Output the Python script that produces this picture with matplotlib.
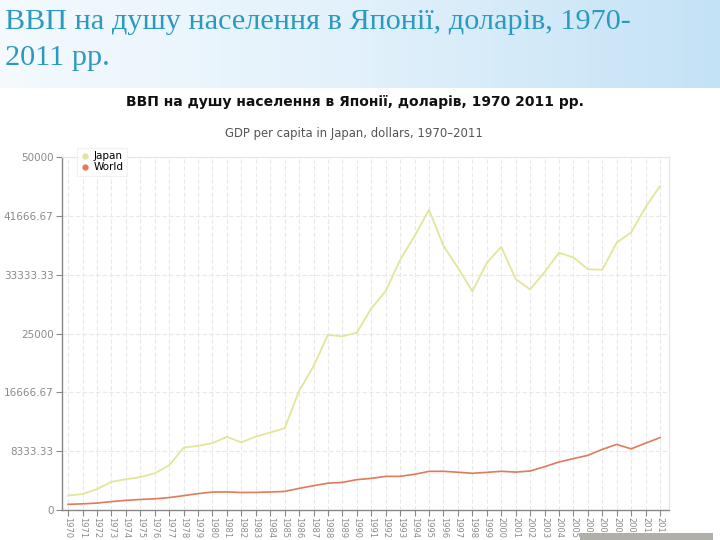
import matplotlib
matplotlib.use("Agg")
import matplotlib.pyplot as plt
import numpy as np
from matplotlib.patches import Rectangle
from matplotlib.colors import LinearSegmentedColormap

years = list(range(1970, 2012))
japan = [2040, 2270, 2950, 3990, 4350, 4660, 5200, 6330, 8820, 9100,
         9460, 10360, 9580, 10400, 10980, 11580, 16880, 20360, 24810, 24600,
         25120, 28540, 31010, 35450, 38810, 42520, 37420, 34300, 30970, 35000,
         37290, 32720, 31240, 33690, 36440, 35780, 34100, 34030, 37870, 39320,
         42910, 45900]
world = [800, 870, 980, 1190, 1360, 1490, 1580, 1760, 2030, 2320,
         2540, 2560, 2480, 2490, 2550, 2630, 3060, 3440, 3800, 3910,
         4300, 4480, 4760, 4770, 5060, 5470, 5480, 5350, 5200, 5330,
         5480, 5370, 5520, 6130, 6800, 7280, 7740, 8590, 9290, 8660,
         9470, 10250]
ytick_vals = [0, 8333.33, 16666.67, 25000, 33333.33, 41666.67, 50000]
ytick_labels = ["0", "8333.33", "16666.67", "25000", "33333.33", "41666.67", "50000"]
series_names = ["Japan", "World"]

W, H = 720, 540
fig = plt.figure(figsize=(7.2, 5.4), dpi=100)
fig.patch.set_facecolor("white")

# header gradient band
bg = fig.add_axes([0, 1 - 88 / H, 1, 88 / H])
grad = np.linspace(0, 1, 256)
g = np.vstack([grad, grad])
cmap = LinearSegmentedColormap.from_list("bg", ["#f4fafe", "#e2f1fb", "#c4e2f6"])
bg.imshow(g, aspect="auto", cmap=cmap, extent=[0, 1, 0, 1])
bg.set_axis_off()

fig.text(5 / W, 1 - 29 / H, "ВВП на душу населення в Японії, доларів, 1970-",
         fontsize=21.8, family="Liberation Serif", color="#2b9ac0", va="baseline", ha="left")
fig.text(5 / W, 1 - 65 / H, "2011 рр.",
         fontsize=21.8, family="Liberation Serif", color="#2b9ac0", va="baseline", ha="left")

fig.text(355 / W, 1 - 106 / H, "ВВП на душу населення в Японії, доларів, 1970 2011 рр.",
         fontsize=10, fontweight="bold", color="#111111", ha="center", va="baseline")
fig.text(354 / W, 1 - 137 / H, "GDP per capita in Japan, dollars, 1970–2011",
         fontsize=8.4, color="#555555", ha="center", va="baseline")

# small strip at bottom right (drawn beneath the chart texts)
fig.patches.append(Rectangle((580 / W, 0), 133 / W, 7 / H, transform=fig.transFigure,
                             facecolor="#b0b0a8", edgecolor="none", zorder=0))

ax = fig.add_axes([62 / W, 1 - 510 / H, (669 - 62) / W, (510 - 157) / H])
ax.patch.set_alpha(0)
ax.plot(years, japan, color="#e3e59c", lw=1.3, label=series_names[0])
ax.plot(years, world, color="#e07a5a", lw=1.2, label=series_names[1])
ax.set_xlim(1969.58, 2011.62)
ax.set_ylim(0, 50000)
ax.set_xticks(years)
ax.set_xticklabels([str(y) for y in years], rotation=-90, fontsize=6, color="#8a8a8a")
ax.set_yticks(ytick_vals)
ax.set_yticklabels(ytick_labels, fontsize=7.5, color="#8a8a8a")
ax.tick_params(axis="both", length=4, color="#888888", width=0.8, pad=2)
ax.tick_params(axis="x", pad=1)
ax.grid(True, color="#e8e8e8", lw=0.8, linestyle=(0, (4, 2)))
ax.set_axisbelow(True)
for s in ["top", "right"]:
    ax.spines[s].set_color("#e6e6e6")
for s in ["left", "bottom"]:
    ax.spines[s].set_color("#888888")
    ax.spines[s].set_linewidth(1.0)

handles = [plt.Line2D([], [], ls="none", marker="o", ms=3.5, color="#e3e59c"),
           plt.Line2D([], [], ls="none", marker="o", ms=3.5, color="#e07a5a")]
leg = fig.legend(handles, series_names, loc="upper left",
                 bbox_to_anchor=(72 / W, 1 - 143 / H), fontsize=7.5,
                 frameon=True, handlelength=0.8, handletextpad=0.5,
                 borderpad=0.3, labelspacing=0.1, fancybox=False)
leg.get_frame().set_edgecolor("#eeeeee")
leg.get_frame().set_linewidth(0.8)

fig.savefig("out.png", dpi=100)
